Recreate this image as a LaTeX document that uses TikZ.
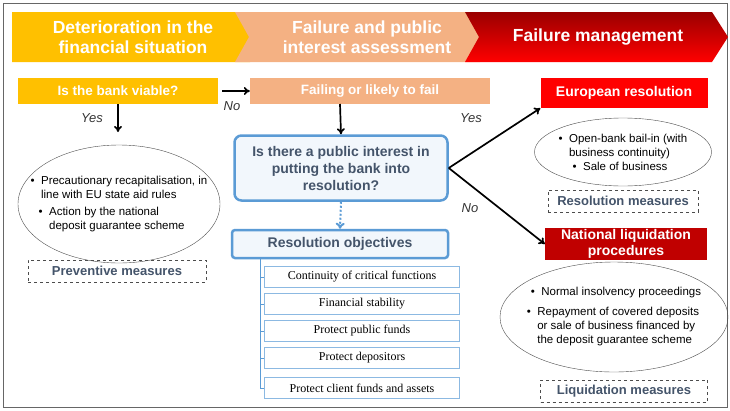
\documentclass[tikz,border=0pt]{standalone}
\usepackage{fontspec}
\setmainfont{Liberation Sans}
\newfontfamily\serifz{Liberation Serif}
\usetikzlibrary{arrows.meta,shapes.geometric,patterns}
\definecolor{yel}{HTML}{FFC000}
\definecolor{sal}{HTML}{F4B183}
\definecolor{rd}{HTML}{FF0000}
\definecolor{drd}{HTML}{C00000}
\definecolor{blu}{HTML}{5B9BD5}
\definecolor{txb}{HTML}{44546A}
\begin{document}
\begin{tikzpicture}[x=1pt,y=-1pt,
  hdr/.style={font=\bfseries\fontsize{17.5}{20}\selectfont,text=white,align=center},
  cbox/.style={draw=none,minimum height=26pt,font=\bfseries\fontsize{13.5}{15}\selectfont,text=white,align=center,inner sep=0pt},
  bbox/.style={draw=blu,line width=2.5pt,rounded corners=7pt,fill=blu!8,text=txb,font=\bfseries\fontsize{14}{17}\selectfont,align=center,inner sep=0pt},
  obj/.style={draw=blu!70,minimum width=195pt,minimum height=21pt,font=\serifz\fontsize{12}{13}\selectfont,inner sep=0pt},
  ell/.style={draw=black!70,ellipse,inner sep=0pt},
  meas/.style={draw=black!70,dashed,font=\bfseries\fontsize{13}{15}\selectfont,text=txb,inner sep=0pt,minimum height=22pt},
  arr/.style={-{To[length=6pt,width=8pt]},line width=1.7pt},
  lbl/.style={font=\itshape\fontsize{13}{15}\selectfont,text=black!80},
  ell text/.style={font=\fontsize{11.5}{14}\selectfont,align=center}]
\useasboundingbox (0,0) rectangle (730,410);
\draw[black!60,line width=1pt] (3,3) rectangle (727,407);
% chevrons
\fill[yel] (12,12) -- (250,12) -- (264,37) -- (250,62) -- (12,62) -- cycle;
\fill[sal] (235,12) -- (480,12) -- (494,37) -- (480,62) -- (235,62) -- (249,37) -- cycle;
\shade[top color=drd!80!black,bottom color=rd] (465,12) -- (712,12) -- (728,37) -- (712,62) -- (465,62) -- (479,37) -- cycle;
\node[hdr] (h1) at (133,37) {Deterioration in the\\financial situation};
\node[hdr] (h2) at (367,37) {Failure and public\\interest assessment};
\node[hdr] (h3) at (598,37) {Failure management};
% boxes
\node[cbox,fill=yel,minimum width=200pt] (viable) at (118,91) {Is the bank viable?};
\node[cbox,fill=sal,minimum width=240pt] (fail) at (370,91) {Failing or likely to fail};
\node[cbox,fill=rd,minimum width=167pt,minimum height=30pt,font=\bfseries\fontsize{14}{15}\selectfont] (eur) at (624,93) {European resolution};
\node[cbox,fill=drd,minimum width=162pt,minimum height=32pt,font=\bfseries\fontsize{14}{16}\selectfont] (nat) at (626,244) {National liquidation\\procedures};
\node[bbox,minimum width=213pt,minimum height=65pt] (pi) at (341,168) {Is there a public interest in\\putting the bank into\\resolution?};
\node[bbox,minimum width=216pt,minimum height=28pt,rounded corners=3pt] (ro) at (340,244) {Resolution objectives};
% arrows
\coordinate (c1) at (118,132);
\draw[arr] (viable.east) ++(4,0) coordinate (v1) -- (fail.west);
\draw[arr] (viable.south) -- (c1);
\draw[arr] (340,104) -- (pi.north);
\draw[arr] (pi.east) -- (eur.south west);
\draw[arr] (pi.east) -- (nat.west);
\draw[blu,line width=2pt,dotted,-{To[length=6pt,width=9pt]}] (pi.south) -- (ro.north);
\node[lbl] (no1) at (232,106) {No};
\node[lbl] (yes1) at (92,118) {Yes};
\node[lbl] (yes2) at (471,118) {Yes};
\node[lbl] (no2) at (470,208) {No};
% objectives
\node[obj] (o1) at (362,277) {Continuity of critical functions};
\node[obj] (o2) at (362,304) {Financial stability};
\node[obj] (o3) at (362,331) {Protect public funds};
\node[obj] (o4) at (362,358) {Protect depositors};
\node[obj] (o5) at (362,388) {Protect client funds and assets};
\draw[blu,line width=1pt] (260,258) -- (260,388) -- (o5.west);
\foreach \o in {o1,o2,o3,o4} \draw[blu,line width=1pt] (260,0 |- \o.west) -- (\o.west);
% ellipses
\node[ell,minimum width=202pt,minimum height=118pt] (e1) at (119,204) {};
\node[ell text,align=left] at (e1) {\textbullet\ \ Precautionary recapitalisation, in\\\hphantom{\textbullet\ \ }line with EU state aid rules\\[3pt]\hspace*{8pt}\textbullet\ \ Action by the national\\\hspace*{8pt}\hphantom{\textbullet\ \ }deposit guarantee scheme};
\node[meas,minimum width=178pt] (pm) at (117,271) {Preventive measures};
\node[ell,minimum width=177pt,minimum height=68pt] (e2) at (623,152) {};
\node[ell text,align=left] at (e2) {\textbullet\ \ Open-bank bail-in (with\\\hphantom{\textbullet\ \ }business continuity)\\\hspace*{14pt}\textbullet\ \ Sale of business};
\node[meas,minimum width=150pt] (rm) at (623,201) {Resolution measures};
\node[ell,minimum width=228pt,minimum height=110pt] (e3) at (614,317) {};
\node[ell text,align=left] at (e3) {\hspace*{4pt}\textbullet\ \ Normal insolvency proceedings\\[6pt]\textbullet\ \ Repayment of covered deposits\\\hphantom{\textbullet\ \ }or sale of business financed by\\\hphantom{\textbullet\ \ }the deposit guarantee scheme};
\node[meas,minimum width=167pt] (lm) at (624,391) {Liquidation measures};
\end{tikzpicture}
\end{document}
